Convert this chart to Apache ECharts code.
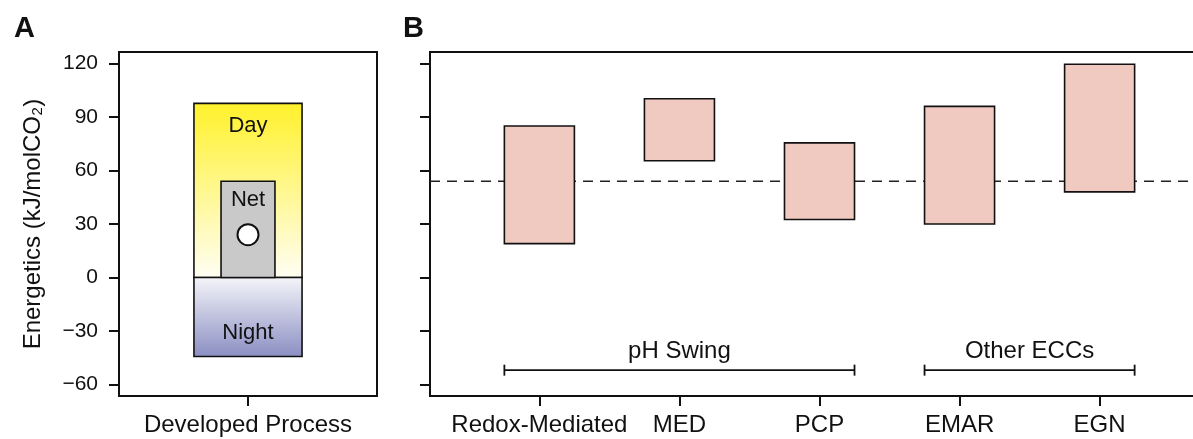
<!DOCTYPE html>
<html>
<head>
<meta charset="utf-8">
<script src="https://cdn.jsdelivr.net/npm/echarts@6/dist/echarts.min.js"></script>
<style>
  html, body { margin: 0; padding: 0; background: #fff; }
  #chart { width: 1193px; height: 439px; }
</style>
</head>
<body>
<div id="chart"></div>
<script>
// panel A: developed process
const partNames = ['Day', 'Night', 'Net']
const partLow = [0, -44.3, 0]
const partHigh = [97.7, 0, 54]
const netPoint = 24

// panel B: other processes
const processes = ['Redox-Mediated', 'MED', 'PCP', 'EMAR', 'EGN']
const rangeLow = [19, 65.5, 32.5, 30, 48]
const rangeHigh = [85, 100.3, 75.5, 96, 119.6]
const netBaseline = 54
const groupNames = ['pH Swing', 'Other ECCs']
const groupFirst = [0, 3]
const groupLast = [2, 4]
const bracketLevel = -52

const yTicks = [-60, -30, 0, 30, 60, 90, 120]

let myChart = echarts.init(document.getElementById('chart'))
const font = "'Liberation Sans', Arial, sans-serif"
const black = '#111'

function fmt(v) {
  return String(v).replace('-', '\u2212')
}

const partStyle = {
  Day: {
    half: 0.419,
    fill: new echarts.graphic.LinearGradient(0, 0, 0, 1, [
      { offset: 0, color: '#FFF12A' },
      { offset: 1, color: '#FFFEF4' }
    ]),
    labelAt: 'top', dy: 23
  },
  Night: {
    half: 0.419,
    fill: new echarts.graphic.LinearGradient(0, 0, 0, 1, [
      { offset: 0, color: '#F5F5F9' },
      { offset: 1, color: '#8A8EC2' }
    ]),
    labelAt: 'bottom', dy: -23
  },
  Net: { half: 0.209, fill: '#C9C9C9', labelAt: 'top', dy: 19 }
}

function yAxisBase(grid, showLabel) {
  return {
    type: 'value',
    gridIndex: grid,
    min: -66.5,
    max: 126.5,
    splitLine: { show: false },
    axisLine: { show: true, onZero: false, lineStyle: { color: black, width: 2 } },
    axisTick: { show: true, length: 10, lineStyle: { color: black, width: 2 }, customValues: yTicks },
    axisLabel: {
      show: showLabel, customValues: yTicks, formatter: fmt,
      fontSize: 21, color: black, fontFamily: font, margin: 21
    }
  }
}

myChart.setOption({
  animation: false,
  title: [
    { text: 'A', left: 9, top: 9, textStyle: { fontSize: 29, fontWeight: 'bold', color: black, fontFamily: font } },
    { text: 'B', left: 398, top: 9, textStyle: { fontSize: 29, fontWeight: 'bold', color: black, fontFamily: font } }
  ],
  grid: [
    { left: 119, top: 52, width: 258, height: 344, show: true, borderColor: black, borderWidth: 2, outerBoundsMode: 'none' },
    { left: 430, top: 52, width: 779, height: 344, show: true, borderColor: black, borderWidth: 2, outerBoundsMode: 'none' }
  ],
  xAxis: [
    {
      type: 'value', gridIndex: 0, min: -1, max: 1,
      splitLine: { show: false },
      axisLine: { onZero: false, lineStyle: { color: black, width: 2 } },
      axisTick: { length: 10, lineStyle: { color: black, width: 2 }, customValues: [0] },
      axisLabel: {
        customValues: [0], formatter: function () { return 'Developed Process' },
        fontSize: 24, color: black, fontFamily: font, margin: 17
      }
    },
    {
      type: 'value', gridIndex: 1, min: -0.781, max: 4.781,
      splitLine: { show: false },
      axisLine: { onZero: false, lineStyle: { color: black, width: 2 } },
      axisTick: { length: 10, lineStyle: { color: black, width: 2 }, customValues: processes.map((p, i) => i) },
      axisLabel: {
        customValues: processes.map((p, i) => i),
        formatter: function (v) { return processes[Math.round(v)] },
        fontSize: 24, color: black, fontFamily: font, margin: 17
      }
    }
  ],
  yAxis: [
    Object.assign(yAxisBase(0, true), {
      name: 'Energetics (kJ/molCO\u2082)',
      nameLocation: 'middle',
      nameGap: 74,
      nameTextStyle: { fontSize: 24, color: black, fontFamily: font }
    }),
    yAxisBase(1, false)
  ],
  series: [
    {
      type: 'custom',
      xAxisIndex: 0, yAxisIndex: 0,
      z: 2,
      data: partNames.map((n, i) => [i, partLow[i], partHigh[i]]),
      renderItem: function (params, api) {
        let name = partNames[api.value(0)]
        let st = partStyle[name]
        let p1 = api.coord([-st.half, api.value(2)])
        let p2 = api.coord([st.half, api.value(1)])
        let ty = st.labelAt === 'top' ? p1[1] + st.dy : p2[1] + st.dy
        return {
          type: 'group',
          children: [
            {
              type: 'rect',
              shape: { x: p1[0], y: p1[1], width: p2[0] - p1[0], height: p2[1] - p1[1] },
              style: { fill: st.fill, stroke: black, lineWidth: 1.6 }
            },
            {
              type: 'text',
              style: {
                x: (p1[0] + p2[0]) / 2, y: ty, text: name,
                align: 'center', verticalAlign: 'middle',
                fontSize: 22, fontFamily: font, fill: black
              }
            }
          ]
        }
      }
    },
    {
      type: 'scatter',
      xAxisIndex: 0, yAxisIndex: 0,
      z: 5,
      data: [[0, netPoint]],
      symbolSize: 21,
      itemStyle: { color: '#fff', borderColor: black, borderWidth: 2, opacity: 1 }
    },
    {
      type: 'line',
      xAxisIndex: 1, yAxisIndex: 1,
      z: 1,
      symbol: 'none',
      data: [[-0.781, netBaseline], [4.781, netBaseline]],
      lineStyle: { color: '#222', width: 1.6, type: [10, 7] }
    },
    {
      type: 'custom',
      xAxisIndex: 1, yAxisIndex: 1,
      z: 3,
      data: processes.map((p, i) => [i, rangeLow[i], rangeHigh[i]]),
      renderItem: function (params, api) {
        let x = api.value(0)
        let p1 = api.coord([x - 0.25, api.value(2)])
        let p2 = api.coord([x + 0.25, api.value(1)])
        return {
          type: 'rect',
          shape: { x: p1[0], y: p1[1], width: p2[0] - p1[0], height: p2[1] - p1[1] },
          style: { fill: '#F0CAC1', stroke: black, lineWidth: 1.6 }
        }
      }
    },
    {
      type: 'custom',
      xAxisIndex: 1, yAxisIndex: 1,
      z: 3,
      data: groupNames.map((g, i) => [groupFirst[i] - 0.25, groupLast[i] + 0.25, bracketLevel, i]),
      renderItem: function (params, api) {
        let a = api.coord([api.value(0), api.value(2)])
        let b = api.coord([api.value(1), api.value(2)])
        let cap = 5.5
        let ls = { stroke: black, lineWidth: 1.8 }
        return {
          type: 'group',
          children: [
            { type: 'line', shape: { x1: a[0], y1: a[1], x2: b[0], y2: b[1] }, style: ls },
            { type: 'line', shape: { x1: a[0], y1: a[1] - cap, x2: a[0], y2: a[1] + cap }, style: ls },
            { type: 'line', shape: { x1: b[0], y1: b[1] - cap, x2: b[0], y2: b[1] + cap }, style: ls },
            {
              type: 'text',
              style: {
                x: (a[0] + b[0]) / 2, y: a[1] - 19, text: groupNames[api.value(3)],
                align: 'center', verticalAlign: 'middle',
                fontSize: 24, fontFamily: font, fill: black
              }
            }
          ]
        }
      }
    }
  ]
})
</script>
</body>
</html>
